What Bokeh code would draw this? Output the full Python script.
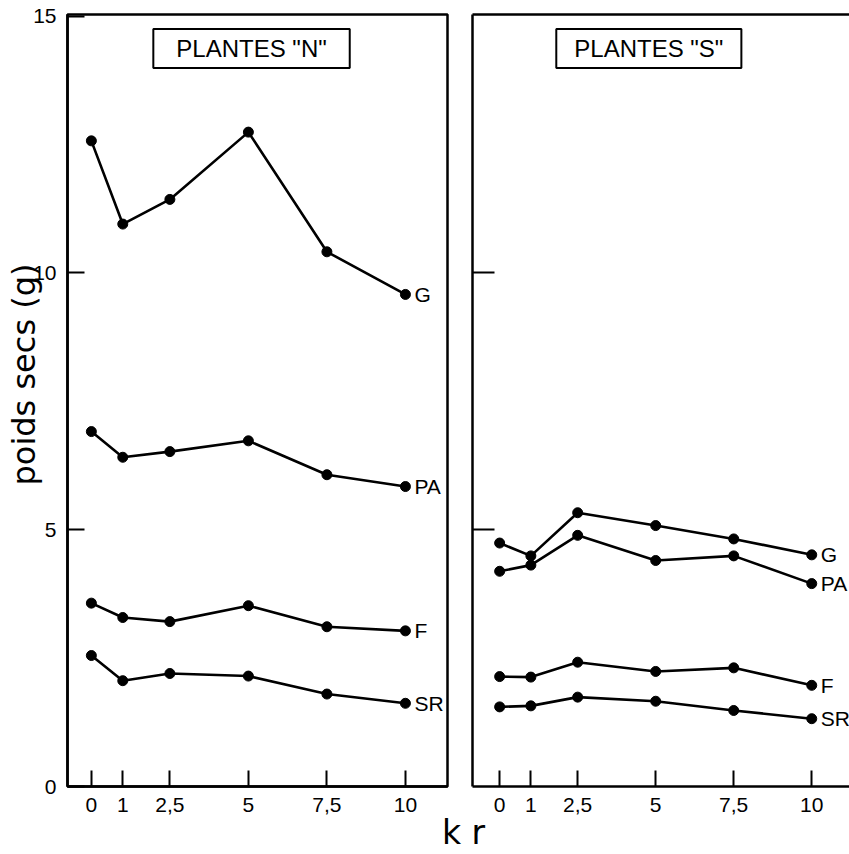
from bokeh.plotting import figure
from bokeh.layouts import row, column
from bokeh.models import Label, LinearAxis, FixedTicker, Range1d, Div, Title
from bokeh.embed import file_html
from bokeh.resources import INLINE

# ---------------- data ----------------
k_vals = [0, 1, 2.5, 5, 7.5, 10]
k_labels = ["0", "1", "2,5", "5", "7,5", "10"]
y_ticks = [0, 5, 10, 15]
y_labels = ["0", "5", "10", "15"]

series_names = ["G", "PA", "F", "SR"]

# Plantes "N"
n_G = [12.57, 10.95, 11.43, 12.74, 10.41, 9.58]
n_PA = [6.91, 6.41, 6.52, 6.73, 6.07, 5.84]
n_F = [3.57, 3.29, 3.21, 3.52, 3.11, 3.03]
n_SR = [2.55, 2.06, 2.20, 2.15, 1.80, 1.62]

# Plantes "S"
s_G = [4.74, 4.49, 5.33, 5.08, 4.82, 4.51]
s_PA = [4.19, 4.31, 4.89, 4.40, 4.49, 3.95]
s_F = [2.14, 2.13, 2.42, 2.24, 2.31, 1.97]
s_SR = [1.55, 1.57, 1.74, 1.66, 1.48, 1.32]

title_N = 'PLANTES "N"'
title_S = 'PLANTES "S"'
y_title = "poids secs (g)"
x_title = "k r"

FONT = "Liberation Sans"
TICK_FS = "21px"


def style_xaxis(p):
    ax = p.xaxis[0]
    ax.ticker = FixedTicker(ticks=k_vals)
    ax.major_label_overrides = {k: lab for k, lab in zip(k_vals, k_labels)}
    ax.major_tick_in = 16
    ax.major_tick_out = 0
    ax.minor_tick_line_color = None
    ax.major_tick_line_width = 2
    ax.major_tick_line_color = "black"
    ax.axis_line_width = 2.5
    ax.axis_line_color = "black"
    ax.major_label_standoff = 11
    ax.major_label_text_font = FONT
    ax.major_label_text_font_size = TICK_FS
    ax.major_label_text_color = "black"


def draw_series(p, data):
    for name, vals in zip(series_names, data):
        p.line(k_vals, vals, line_color="black", line_width=2.6)
        p.scatter(k_vals, vals, size=10, color="black")
    p.text(x=[k_vals[-1]] * len(series_names), y=[d[-1] for d in data],
           text=series_names, x_offset=9, text_baseline="middle",
           text_align="left", text_font_size=TICK_FS, text_color="black",
           text_font={"value": FONT})


# ---------------- left panel ----------------
p1 = figure(width=460, height=822, x_range=Range1d(-0.76, 11.34),
            y_range=Range1d(0, 15.03), output_backend="svg",
            toolbar_location=None, min_border_left=67, min_border_right=13,
            min_border_top=14, min_border_bottom=36)
p1.grid.visible = False
p1.outline_line_color = "black"
p1.outline_line_width = 2.5
p1.background_fill_color = "white"
p1.border_fill_color = "white"
style_xaxis(p1)
ya = p1.yaxis[0]
ya.ticker = FixedTicker(ticks=y_ticks)
ya.major_label_overrides = {t: lab for t, lab in zip(y_ticks, y_labels)}
ya.major_tick_in = 17
ya.major_tick_out = 0
ya.minor_tick_line_color = None
ya.major_tick_line_width = 2
ya.axis_line_width = 2.5
ya.axis_line_color = "black"
ya.major_label_standoff = 11
ya.major_label_text_font = FONT
ya.major_label_text_font_size = TICK_FS
ya.major_label_text_color = "black"

ytitle = Title(text=y_title, align="left", vertical_align="middle",
               offset=301, standoff=-27, text_font="DejaVu Sans",
               text_font_size="32px", text_font_style="normal",
               text_color="black")
p1.add_layout(ytitle, "left")

draw_series(p1, [n_G, n_PA, n_F, n_SR])

p1.add_layout(Label(x=5.1, y=14.37, text=title_N, text_align="center",
                    text_baseline="middle", text_font=FONT,
                    text_font_size="24px", text_color="black",
                    border_line_color="black", border_line_width=2,
                    background_fill_color="white",
                    padding=dict(left=23, right=23, top=6, bottom=6)))

# ---------------- right panel ----------------
p2 = figure(width=389, height=822, x_range=Range1d(-0.87, 11.21),
            y_range=Range1d(0, 15.03), output_backend="svg",
            toolbar_location=None, min_border_left=12, min_border_right=0,
            min_border_top=14, min_border_bottom=36)
p2.grid.visible = False
p2.outline_line_color = None
p2.background_fill_color = "white"
p2.border_fill_color = "white"
style_xaxis(p2)
yb = p2.yaxis[0]
yb.ticker = FixedTicker(ticks=[5, 10])
yb.major_label_overrides = {5: "", 10: ""}
yb.major_label_text_font_size = "0px"
yb.major_label_standoff = 0
yb.major_tick_in = 22
yb.major_tick_out = 0
yb.minor_tick_line_color = None
yb.major_tick_line_width = 2
yb.axis_line_width = 2.5
yb.axis_line_color = "black"

top_ax = LinearAxis(ticker=FixedTicker(ticks=[]), major_tick_in=0,
                    major_tick_out=0, minor_tick_in=0, minor_tick_out=0,
                    major_label_text_font_size="0px", major_label_standoff=0,
                    axis_line_width=2.5, axis_line_color="black")
p2.add_layout(top_ax, "above")

draw_series(p2, [s_G, s_PA, s_F, s_SR])

p2.add_layout(Label(x=4.78, y=14.37, text=title_S, text_align="center",
                    text_baseline="middle", text_font=FONT,
                    text_font_size="24px", text_color="black",
                    border_line_color="black", border_line_width=2,
                    background_fill_color="white",
                    padding=dict(left=18, right=18, top=6, bottom=6)))

xlab = Div(text=x_title, width=80, height=30, margin=(-4, 0, 0, 442),
           styles={"font-family": "DejaVu Sans", "font-size": "33px",
                   "line-height": "30px", "color": "black"})

layout = column(row(p1, p2), xlab)

open("out.html", "w").write(file_html(layout, INLINE))
